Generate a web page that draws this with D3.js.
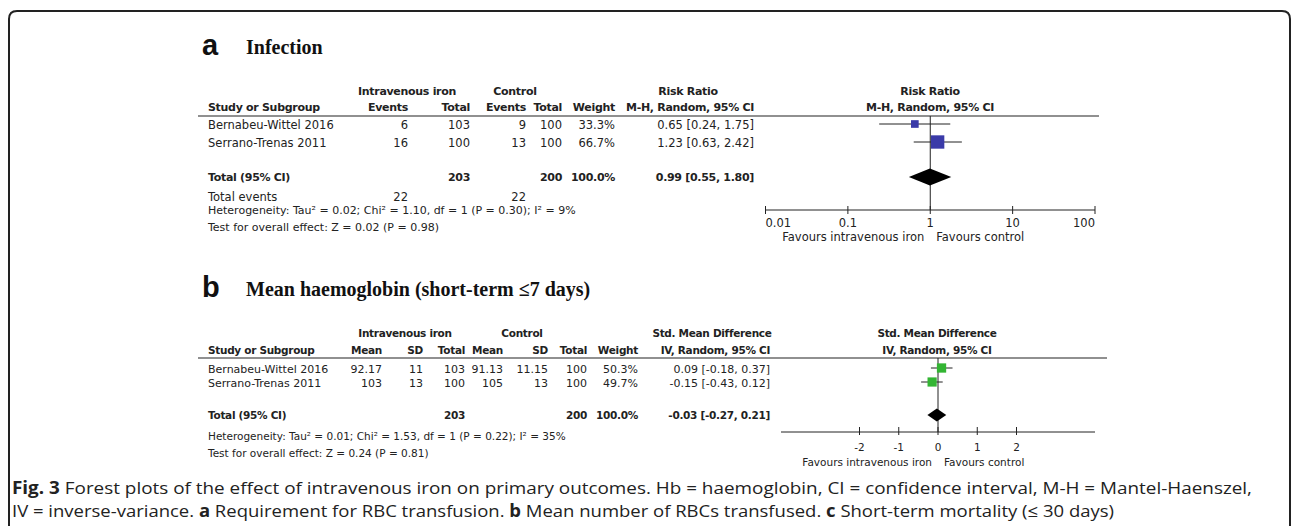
<!DOCTYPE html>
<html>
<head>
<meta charset="utf-8">
<script src="https://cdn.jsdelivr.net/npm/d3@7"></script>
<style>
  body { margin: 0; background: #fff; }
  svg text { font-family: "DejaVu Sans", Verdana, sans-serif; fill: #222; }
  .b { font-weight: bold; letter-spacing: -0.3px; }
</style>
</head>
<body>
<svg id="fig" width="1292" height="526"></svg>
<script>
// ---- data ----
const studies = ["Bernabeu-Wittel 2016", "Serrano-Trenas 2011"]

// a: infection (risk ratio)
const infIvEvents = [6, 16]
const infIvTotal = [103, 100]
const infCtrlEvents = [9, 13]
const infCtrlTotal = [100, 100]
const infWeight = [33.3, 66.7]
const infRR = [0.65, 1.23]
const infLo = [0.24, 0.63]
const infHi = [1.75, 2.42]
const infTotal = {iv: 203, ctrl: 200, ivEvents: 22, ctrlEvents: 22, est: 0.99, lo: 0.55, hi: 1.80}
const infTicks = [0.01, 0.1, 1, 10, 100]

// b: mean haemoglobin (SMD)
const hbIvMean = ["92.17", "103"]
const hbIvSD = [11, 13]
const hbIvTotal = [103, 100]
const hbCtrlMean = ["91.13", "105"]
const hbCtrlSD = ["11.15", "13"]
const hbCtrlTotal = [100, 100]
const hbWeight = [50.3, 49.7]
const hbSMD = [0.09, -0.15]
const hbLo = [-0.18, -0.43]
const hbHi = [0.37, 0.12]
const hbTotal = {iv: 203, ctrl: 200, est: -0.03, lo: -0.27, hi: 0.21}
const hbTicks = [-2, -1, 0, 1, 2]

// plain hyphen for negatives, like the original
const f2 = d => d3.format(".2f")(d).replace(/\u2212/g, "-")
const pct = d => d3.format(".1f")(d) + "%"
const ci = (e, l, h) => f2(e) + " [" + f2(l) + ", " + f2(h) + "]"

const svg = d3.select("#fig")

// frame
svg.append("path")
    .attr("d", "M9,530 L9,19 Q9,11 17,11 L1282,11 Q1290,11 1290,19 L1290,530")
    .attr("fill", "none").attr("stroke", "#222").attr("stroke-width", 2)

function txt(g, x, y, s, anchor, cls, size){
    return g.append("text").attr("x", x).attr("y", y).text(s)
        .attr("text-anchor", anchor || "start")
        .attr("class", cls || null)
        .style("font-size", (size || 11.5) + "px")
}

function title(letter, label, y){
    svg.append("text").attr("x", 202).attr("y", y).text(letter)
        .style("font-family", "Liberation Sans, Arial, sans-serif")
        .style("font-weight", "bold").style("font-size", "29px").style("fill", "#111")
    svg.append("text").attr("x", 246).attr("y", y - 1).text(label)
        .style("font-family", "Liberation Serif, Times New Roman, serif")
        .style("font-weight", "bold").style("font-size", "20px").style("fill", "#111")
}

const sizeScale = d3.scaleLinear().domain([0, 100]).range([2, 19])

// ---------------- panel a ----------------
title("a", "Infection", 55)
const gA = svg.append("g")
const fsA = 11.5
const colA = {ev: 408, tot: 470, cev: 526, ctot: 562, w: 615, ci: 754}

txt(gA, 407, 95, "Intravenous iron", "middle", "b", 11)
txt(gA, 515, 95, "Control", "middle", "b", 11)
txt(gA, 688, 95, "Risk Ratio", "middle", "b", 11)
txt(gA, 930, 95, "Risk Ratio", "middle", "b", 11)
txt(gA, 208, 111, "Study or Subgroup", "start", "b", 11)
txt(gA, colA.ev, 111, "Events", "end", "b", 11)
txt(gA, colA.tot, 111, "Total", "end", "b", 11)
txt(gA, colA.cev, 111, "Events", "end", "b", 11)
txt(gA, colA.ctot, 111, "Total", "end", "b", 11)
txt(gA, colA.w, 111, "Weight", "end", "b", 11)
txt(gA, colA.ci, 111, "M-H, Random, 95% CI", "end", "b", 11)
txt(gA, 930, 111, "M-H, Random, 95% CI", "middle", "b", 11)
gA.append("line").attr("x1", 198).attr("x2", 1099).attr("y1", 116).attr("y2", 116)
    .attr("stroke", "#222").attr("stroke-width", 1.2)

const rowYA = [125, 143]
studies.forEach((s, i) => {
    const y = rowYA[i] + 4
    txt(gA, 208, y, s, "start", null, fsA)
    txt(gA, colA.ev, y, infIvEvents[i], "end", null, fsA)
    txt(gA, colA.tot, y, infIvTotal[i], "end", null, fsA)
    txt(gA, colA.cev, y, infCtrlEvents[i], "end", null, fsA)
    txt(gA, colA.ctot, y, infCtrlTotal[i], "end", null, fsA)
    txt(gA, colA.w, y, pct(infWeight[i]), "end", null, fsA)
    txt(gA, colA.ci, y, ci(infRR[i], infLo[i], infHi[i]), "end", null, fsA)
})
txt(gA, 208, 181, "Total (95% CI)", "start", "b", 11)
txt(gA, colA.tot, 181, infTotal.iv, "end", "b", 11)
txt(gA, colA.ctot, 181, infTotal.ctrl, "end", "b", 11)
txt(gA, colA.w, 181, "100.0%", "end", "b", 11)
txt(gA, colA.ci, 181, ci(infTotal.est, infTotal.lo, infTotal.hi), "end", "b", 11)
txt(gA, 208, 201, "Total events", "start", null, fsA)
txt(gA, colA.ev, 201, infTotal.ivEvents, "end", null, fsA)
txt(gA, colA.cev, 201, infTotal.ctrlEvents, "end", null, fsA)
txt(gA, 208, 214, "Heterogeneity: Tau\u00b2 = 0.02; Chi\u00b2 = 1.10, df = 1 (P = 0.30); I\u00b2 = 9%", "start", null, 11)
txt(gA, 208, 231, "Test for overall effect: Z = 0.02 (P = 0.98)", "start", null, 11)

// plot a
const xA = d3.scaleLog().domain([0.01, 100]).range([765.5, 1095])
const axYA = 210
gA.append("line").attr("x1", xA(1)).attr("x2", xA(1)).attr("y1", 116).attr("y2", axYA).attr("stroke", "#222")
gA.append("line").attr("x1", xA(0.01)).attr("x2", xA(100)).attr("y1", axYA).attr("y2", axYA).attr("stroke", "#222")
infTicks.forEach((t, i) => {
    gA.append("line").attr("x1", xA(t)).attr("x2", xA(t)).attr("y1", axYA - 4).attr("y2", axYA + 4).attr("stroke", "#222")
    const anchor = i === 0 ? "start" : (i === infTicks.length - 1 ? "end" : "middle")
    txt(gA, xA(t), 227, String(t), anchor, null, 11.5)
})
txt(gA, xA(1) - 6, 241, "Favours intravenous iron", "end", null, 11.5)
txt(gA, xA(1) + 6, 241, "Favours control", "start", null, 11.5)

studies.forEach((s, i) => {
    const y = rowYA[i] - 1
    gA.append("line").attr("x1", xA(infLo[i])).attr("x2", xA(infHi[i])).attr("y1", y).attr("y2", y).attr("stroke", "#222")
    const sz = sizeScale(infWeight[i])
    gA.append("rect").attr("x", xA(infRR[i]) - sz / 2).attr("y", y - sz / 2)
        .attr("width", sz).attr("height", sz).attr("fill", "#3a3aa8")
})
gA.append("path")
    .attr("d", `M${xA(infTotal.lo)},177 L${xA(infTotal.est)},168.5 L${xA(infTotal.hi)},177 L${xA(infTotal.est)},185.5 Z`)
    .attr("fill", "#000")

// ---------------- panel b ----------------
title("b", "Mean haemoglobin (short-term \u22647 days)", 297)
const gB = svg.append("g")
const fsB = 11
const colB = {m: 382, sd: 423, tot: 465, cm: 503, csd: 548, ctot: 587, w: 638, ci: 770}

txt(gB, 405, 337, "Intravenous iron", "middle", "b", 10.5)
txt(gB, 522, 337, "Control", "middle", "b", 10.5)
txt(gB, 712, 337, "Std. Mean Difference", "middle", "b", 10.5)
txt(gB, 937, 337, "Std. Mean Difference", "middle", "b", 10.5)
txt(gB, 208, 354, "Study or Subgroup", "start", "b", 10.5)
txt(gB, colB.m, 354, "Mean", "end", "b", 10.5)
txt(gB, colB.sd, 354, "SD", "end", "b", 10.5)
txt(gB, colB.tot, 354, "Total", "end", "b", 10.5)
txt(gB, colB.cm, 354, "Mean", "end", "b", 10.5)
txt(gB, colB.csd, 354, "SD", "end", "b", 10.5)
txt(gB, colB.ctot, 354, "Total", "end", "b", 10.5)
txt(gB, colB.w, 354, "Weight", "end", "b", 10.5)
txt(gB, colB.ci, 354, "IV, Random, 95% CI", "end", "b", 10.5)
txt(gB, 937, 354, "IV, Random, 95% CI", "middle", "b", 10.5)
gB.append("line").attr("x1", 198).attr("x2", 1107).attr("y1", 358).attr("y2", 358)
    .attr("stroke", "#222").attr("stroke-width", 1.2)

const rowYB = [369, 383]
studies.forEach((s, i) => {
    const y = rowYB[i] + 4
    txt(gB, 208, y, s, "start", null, fsB)
    txt(gB, colB.m, y, hbIvMean[i], "end", null, fsB)
    txt(gB, colB.sd, y, hbIvSD[i], "end", null, fsB)
    txt(gB, colB.tot, y, hbIvTotal[i], "end", null, fsB)
    txt(gB, colB.cm, y, hbCtrlMean[i], "end", null, fsB)
    txt(gB, colB.csd, y, hbCtrlSD[i], "end", null, fsB)
    txt(gB, colB.ctot, y, hbCtrlTotal[i], "end", null, fsB)
    txt(gB, colB.w, y, pct(hbWeight[i]), "end", null, fsB)
    txt(gB, colB.ci, y, ci(hbSMD[i], hbLo[i], hbHi[i]), "end", null, fsB)
})
txt(gB, 208, 419, "Total (95% CI)", "start", "b", 10.5)
txt(gB, colB.tot, 419, hbTotal.iv, "end", "b", 10.5)
txt(gB, colB.ctot, 419, hbTotal.ctrl, "end", "b", 10.5)
txt(gB, colB.w, 419, "100.0%", "end", "b", 10.5)
txt(gB, colB.ci, 419, ci(hbTotal.est, hbTotal.lo, hbTotal.hi), "end", "b", 10.5)
txt(gB, 208, 440, "Heterogeneity: Tau\u00b2 = 0.01; Chi\u00b2 = 1.53, df = 1 (P = 0.22); I\u00b2 = 35%", "start", null, 10.5)
txt(gB, 208, 457, "Test for overall effect: Z = 0.24 (P = 0.81)", "start", null, 10.5)

// plot b
const xB = d3.scaleLinear().domain([-4, 4]).range([781, 1095])
const axYB = 432
gB.append("line").attr("x1", xB(0)).attr("x2", xB(0)).attr("y1", 358).attr("y2", axYB).attr("stroke", "#222")
gB.append("line").attr("x1", xB(-4)).attr("x2", xB(4)).attr("y1", axYB).attr("y2", axYB).attr("stroke", "#222")
hbTicks.forEach(t => {
    gB.append("line").attr("x1", xB(t)).attr("x2", xB(t)).attr("y1", axYB - 5).attr("y2", axYB + 3).attr("stroke", "#222")
    txt(gB, xB(t), 451, String(t), "middle", null, 10.5)
})
txt(gB, xB(0) - 6, 466, "Favours intravenous iron", "end", null, 10.5)
txt(gB, xB(0) + 6, 466, "Favours control", "start", null, 10.5)

studies.forEach((s, i) => {
    const y = rowYB[i] - 1
    gB.append("line").attr("x1", xB(hbLo[i])).attr("x2", xB(hbHi[i])).attr("y1", y).attr("y2", y).attr("stroke", "#222")
    const sz = sizeScale(hbWeight[i]) * 0.88
    gB.append("rect").attr("x", xB(hbSMD[i]) - sz / 2).attr("y", y - sz / 2)
        .attr("width", sz).attr("height", sz).attr("fill", "#33b533")
})
gB.append("path")
    .attr("d", `M${xB(hbTotal.lo)},415 L${xB(hbTotal.est)},408.5 L${xB(hbTotal.hi)},415 L${xB(hbTotal.est)},421.5 Z`)
    .attr("fill", "#000")

// ---------------- caption ----------------
const cap1 = svg.append("text").attr("x", 12).attr("y", 494)
    .attr("textLength", 1240).attr("lengthAdjust", "spacingAndGlyphs")
    .style("font-family", "Open Sans, sans-serif").style("font-size", "17px")
cap1.append("tspan").style("font-weight", "bold").text("Fig. 3")
cap1.append("tspan").text(" Forest plots of the effect of intravenous iron on primary outcomes. Hb = haemoglobin, CI = confidence interval, M-H = Mantel-Haenszel,")

const cap2 = svg.append("text").attr("x", 12).attr("y", 517)
    .attr("textLength", 1102).attr("lengthAdjust", "spacingAndGlyphs")
    .style("font-family", "Open Sans, sans-serif").style("font-size", "17px")
const parts2 = [["IV = inverse-variance. ", false], ["a", true], [" Requirement for RBC transfusion. ", false],
    ["b", true], [" Mean number of RBCs transfused. ", false], ["c", true], [" Short-term mortality (\u2264 30 days)", false]]
parts2.forEach(p => cap2.append("tspan").style("font-weight", p[1] ? "bold" : null).text(p[0]))
</script>
</body>
</html>
